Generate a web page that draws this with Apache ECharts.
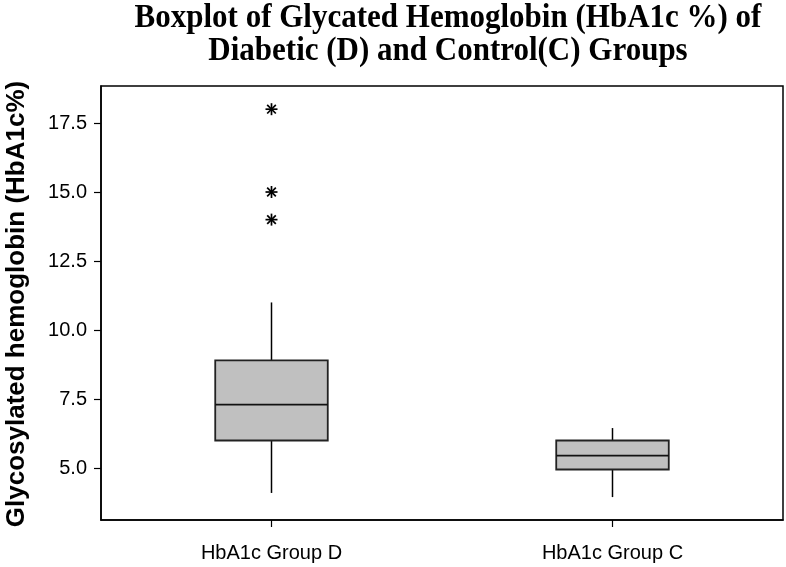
<!DOCTYPE html>
<html>
<head>
<meta charset="utf-8">
<script src="https://cdn.jsdelivr.net/npm/echarts@6/dist/echarts.min.js"></script>
<style>html,body{margin:0;padding:0;background:#fff}#c{width:786px;height:567px}</style>
</head>
<body>
<div id="c"></div>
<script>
var titleLines = ['Boxplot of Glycated Hemoglobin (HbA1c %) of', 'Diabetic (D) and Control(C) Groups'];
var yAxisTitle = 'Glycosylated hemoglobin (HbA1c%)';
var categories = ['HbA1c Group D', 'HbA1c Group C'];
// [whisker low, Q1, median, Q3, whisker high]
var boxStats = [
  [4.1, 6.0, 7.3, 8.9, 11.0],
  [3.95, 4.95, 5.45, 6.0, 6.45]
];
// outliers: [category index, value]
var outliers = [[0, 18.0], [0, 15.0], [0, 14.0]];
var yTicks = [5.0, 7.5, 10.0, 12.5, 15.0, 17.5];
var yMin = 3.12, yMax = 18.84;

var chart = echarts.init(document.getElementById('c'), null, {renderer: 'canvas'});
var fontSans = 'Liberation Sans, Arial, sans-serif';

var option = {
  animation: false,
  backgroundColor: '#fff',
  grid: {left: 101, right: 3, top: 86, bottom: 47, show: true, borderColor: '#000', borderWidth: 1.5, backgroundColor: 'transparent'},
  xAxis: {
    type: 'category', data: categories, boundaryGap: true,
    axisLine: {show: true, lineStyle: {color: '#000', width: 1.5}},
    axisTick: {show: true, alignWithLabel: true, length: 7, lineStyle: {color: '#000', width: 1.2}},
    axisLabel: {color: '#000', fontFamily: fontSans, fontSize: 20, margin: 23},
    splitLine: {show: false}
  },
  yAxis: {
    type: 'value', min: yMin, max: yMax,
    axisLine: {show: true, lineStyle: {color: '#000', width: 1.5}},
    axisTick: {show: true, length: 7, customValues: yTicks, lineStyle: {color: '#000', width: 1.2}},
    axisLabel: {color: '#000', fontFamily: fontSans, fontSize: 20, margin: 14, customValues: yTicks,
      formatter: function (v) { return Number(v).toFixed(1); }},
    splitLine: {show: false}
  },
  graphic: [
    {type: 'text', x: 448, y: 2, scaleY: 1.06, style: {text: titleLines.join('\n'), fill: '#000',
      font: 'bold 31px "Liberation Serif", "Times New Roman", serif', textAlign: 'center', textVerticalAlign: 'top', lineHeight: 31}},
    {type: 'text', x: 17, y: 304, rotation: Math.PI / 2, style: {text: yAxisTitle, fill: '#000',
      font: 'bold 26px "Liberation Sans", Arial, sans-serif', textAlign: 'center', textVerticalAlign: 'middle'}}
  ],
  series: [
    {
      type: 'custom',
      data: boxStats.map(function (s, i) { return [i].concat(s); }),
      renderItem: function (params, api) {
        var c = api.value(0);
        var pLow = api.coord([c, api.value(1)]);
        var pQ1 = api.coord([c, api.value(2)]);
        var pMed = api.coord([c, api.value(3)]);
        var pQ3 = api.coord([c, api.value(4)]);
        var pHigh = api.coord([c, api.value(5)]);
        var bw = api.size([1, 0])[0] * 0.33;
        var x = pMed[0];
        var ls = {stroke: '#000', lineWidth: 1.5};
        return {type: 'group', children: [
          {type: 'line', shape: {x1: x, y1: pHigh[1], x2: x, y2: pQ3[1]}, style: ls},
          {type: 'line', shape: {x1: x, y1: pQ1[1], x2: x, y2: pLow[1]}, style: ls},
          {type: 'rect', shape: {x: x - bw / 2, y: pQ3[1], width: bw, height: pQ1[1] - pQ3[1]},
            style: {fill: '#c0c0c0', stroke: '#222', lineWidth: 1.8}},
          {type: 'line', shape: {x1: x - bw / 2, y1: pMed[1], x2: x + bw / 2, y2: pMed[1]}, style: {stroke: '#111', lineWidth: 1.8}}
        ]};
      }
    },
    {
      type: 'custom',
      data: outliers,
      renderItem: function (params, api) {
        var p = api.coord([api.value(0), api.value(1)]);
        var r = 6, d = r * 0.72;
        var st = {stroke: '#000', lineWidth: 1.7};
        return {type: 'group', children: [
          {type: 'line', shape: {x1: p[0] - r, y1: p[1], x2: p[0] + r, y2: p[1]}, style: st},
          {type: 'line', shape: {x1: p[0], y1: p[1] - r, x2: p[0], y2: p[1] + r}, style: st},
          {type: 'line', shape: {x1: p[0] - d, y1: p[1] - d, x2: p[0] + d, y2: p[1] + d}, style: st},
          {type: 'line', shape: {x1: p[0] - d, y1: p[1] + d, x2: p[0] + d, y2: p[1] - d}, style: st}
        ]};
      }
    }
  ]
};
chart.setOption(option);
</script>
</body>
</html>
